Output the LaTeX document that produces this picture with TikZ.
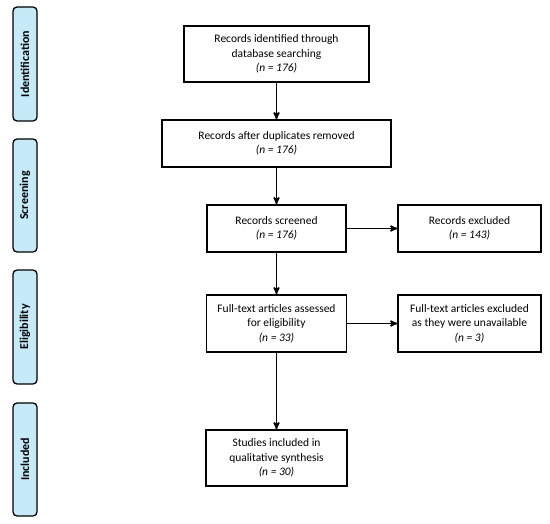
\documentclass[tikz,border=0pt]{standalone}
\usepackage{fontspec}
\setmainfont{Carlito}
\usetikzlibrary{arrows}

\definecolor{stagefill}{HTML}{C6EAF8}

\begin{document}
\begin{tikzpicture}[x=1pt,y=-1pt,->,>=stealth',semithick,
	box/.style={draw,->,line width=1.1pt,align=center,inner sep=0pt,
		font=\fontsize{11.5}{14.5}\selectfont},
	stage/.style={draw,line width=1.3pt,rounded corners=4pt,fill=stagefill,
		minimum width=24pt,inner sep=0pt,rotate=90,
		font=\bfseries\fontsize{12}{12}\selectfont}]
	\useasboundingbox (0,0) rectangle (550,524);
	
	\node[stage,minimum width=114pt,minimum height=24pt](I) at (25,64){Identification};
	\node[stage,minimum width=113pt,minimum height=24pt](S) at (25,195.5){Screening};
	\node[stage,minimum width=114pt,minimum height=24pt](E) at (25,327){Eligibility};
	\node[stage,minimum width=113pt,minimum height=24pt](N) at (25,459.5){Included};
	
	\node[box,minimum width=185pt,minimum height=56pt](ident) at (276.5,54)
		{Records identified through\\database searching\\{\itshape (n = 176)}};
	\node[box,minimum width=229pt,minimum height=47pt](dupl) at (276.5,143.5)
		{Records after duplicates removed\\{\itshape (n = 176)}};
	\node[box,minimum width=139pt,minimum height=47pt](screen) at (276.5,228.5)
		{Records screened\\{\itshape (n = 176)}};
	\node[box,minimum width=143pt,minimum height=47pt](excl) at (469.5,228.5)
		{Records excluded\\{\itshape (n = 143)}};
	\node[box,minimum width=140pt,minimum height=57pt](full) at (276.5,323.5)
		{Full-text articles assessed\\for eligibility\\{\itshape (n = 33)}};
	\node[box,minimum width=143pt,minimum height=57pt](unav) at (469.5,323.5)
		{Full-text articles excluded\\as they were unavailable\\{\itshape (n = 3)}};
	\node[box,minimum width=141pt,minimum height=56pt](incl) at (276.5,458)
		{Studies included in\\qualitative synthesis\\{\itshape (n = 30)}};
	
	\path[line width=1.5pt]
	      (ident)  edge (dupl)
	      (dupl)   edge (screen)
	      (screen) edge (excl)
	               edge (full)
	      (full)   edge (unav)
	               edge (incl);
\end{tikzpicture}
\end{document}
